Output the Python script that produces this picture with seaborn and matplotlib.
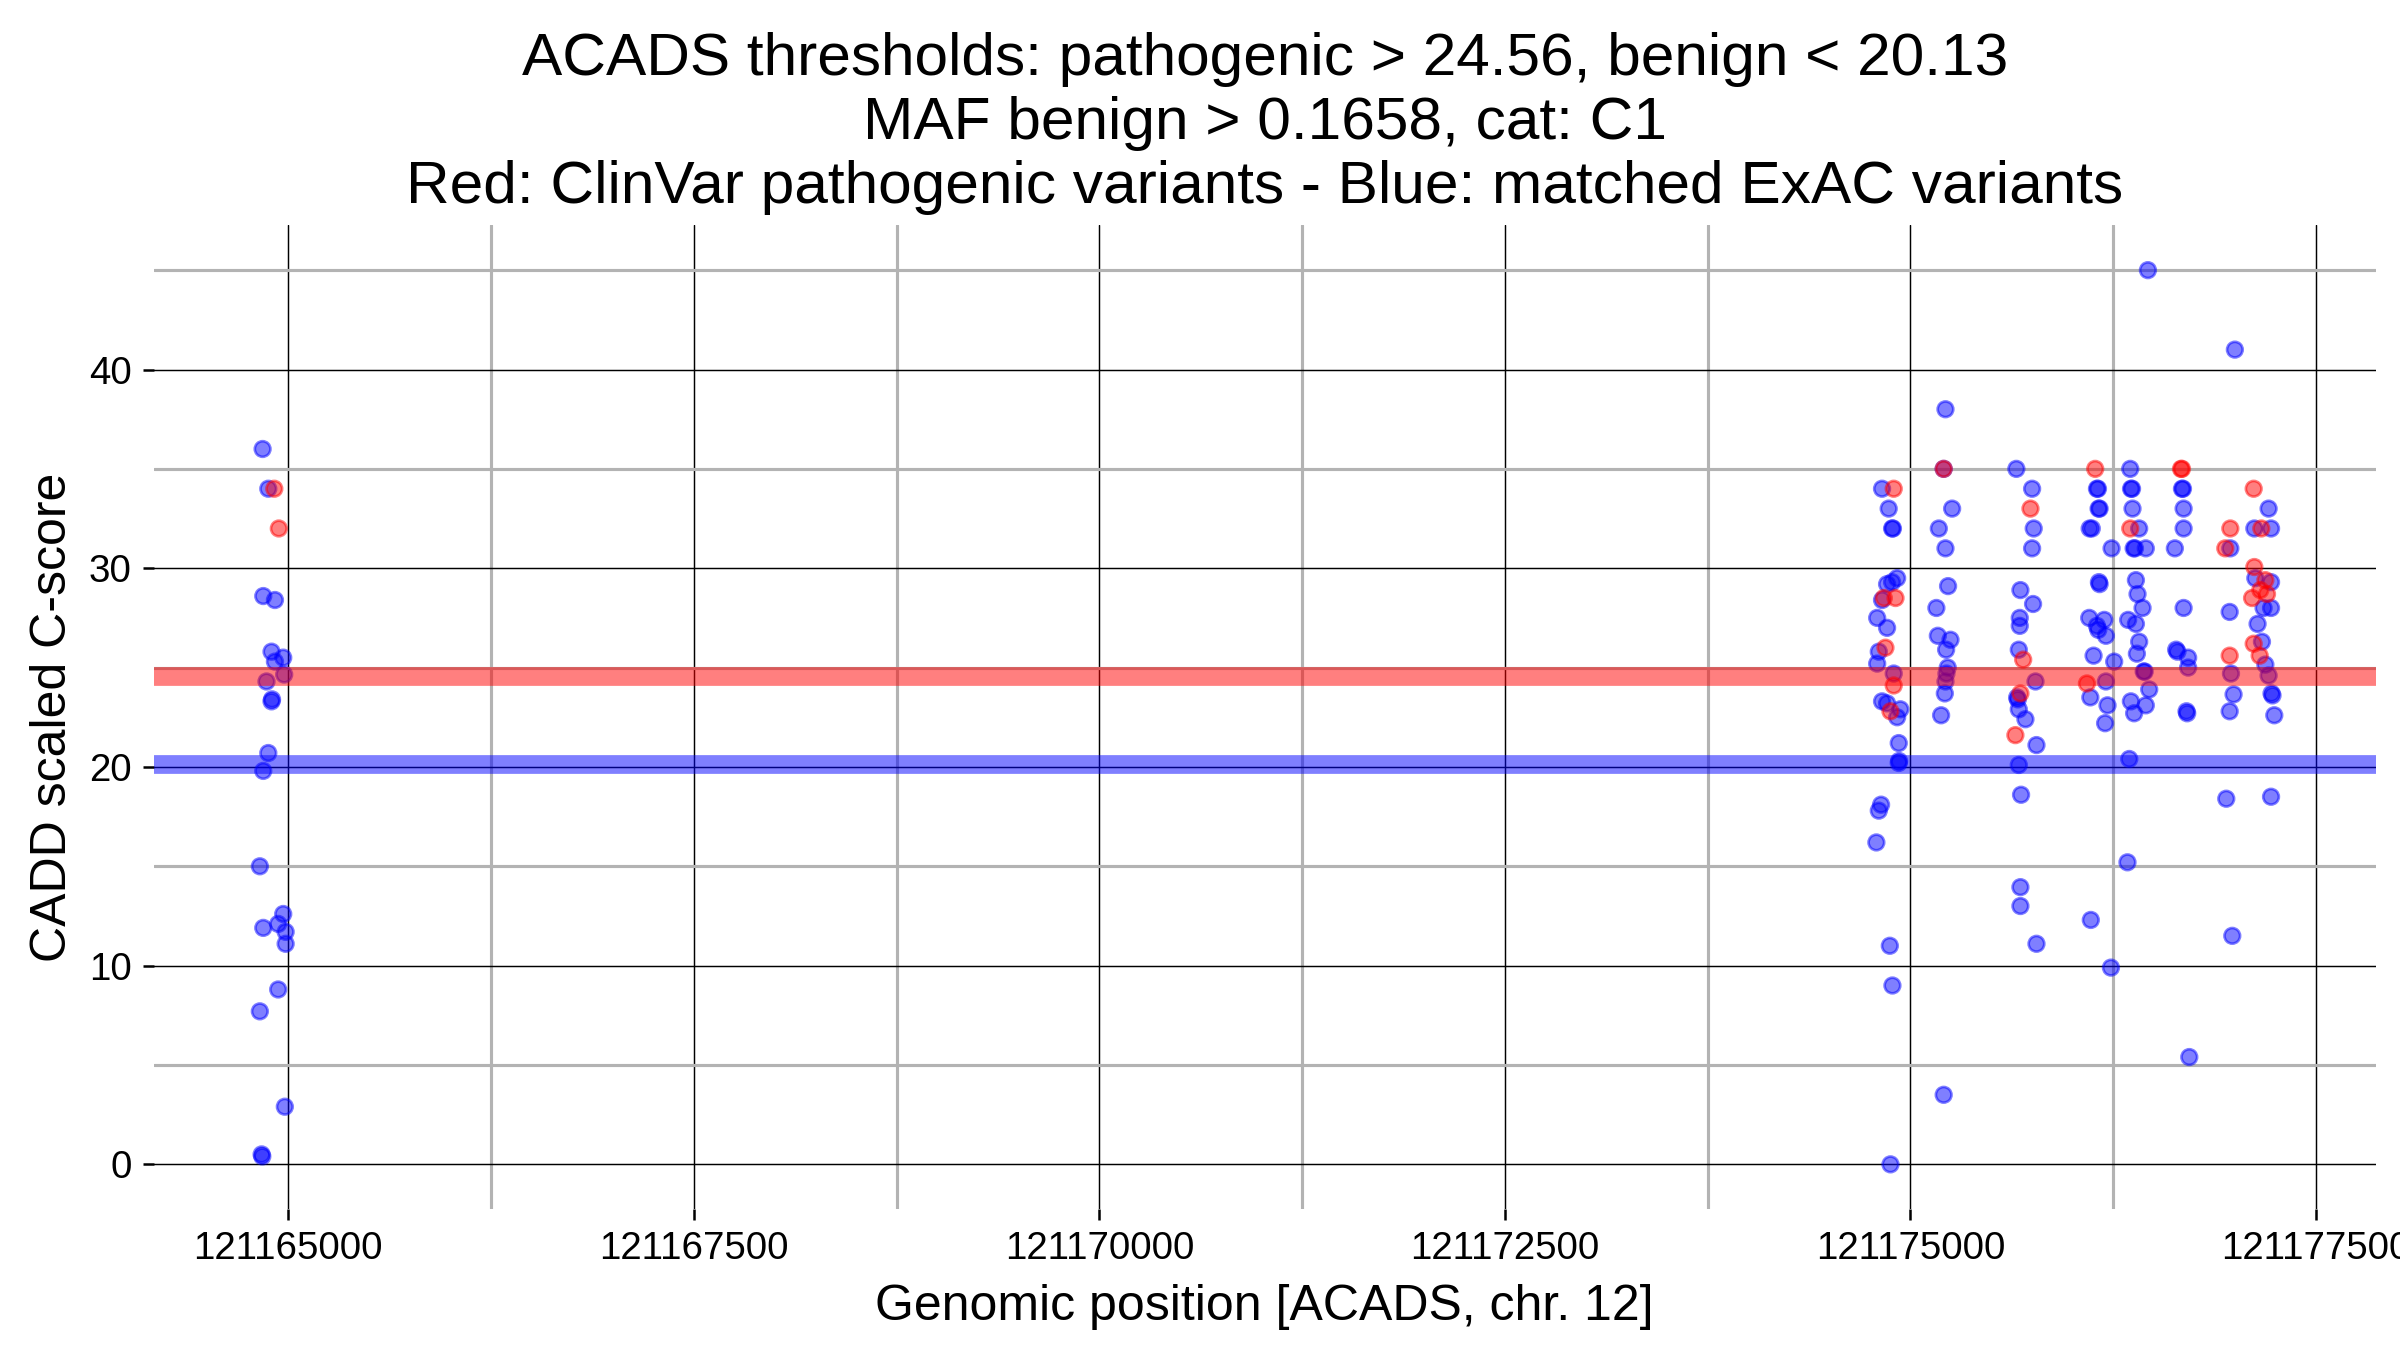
import numpy as np
import pandas as pd
import matplotlib
matplotlib.use('Agg')
import matplotlib.pyplot as plt
from matplotlib.ticker import MultipleLocator
import seaborn as sns

gene = 'ACADS'
chrom = 12
path_thr = 24.56
benign_thr = 20.13
maf_benign = 0.1658
cat = 'C1'

#matched ExAC variants (blue)
exac_pos = [
    # exon cluster near 121165000
    121164842, 121164877, 121164846, 121164918, 121164897, 121164918, 121164969,
    121164975, 121164866, 121164897, 121164900, 121164877, 121164846, 121164825,
    121164969, 121164938, 121164846, 121164984, 121164984, 121164938, 121164825,
    121164979, 121164836, 121164840,
    # 121174800 - 121174950
    121174825, 121174866, 121174887, 121174892, 121174918, 121174856, 121174887,
    121174825, 121174795, 121174856, 121174805, 121174795, 121174897, 121174825,
    121174856, 121174938, 121174918, 121174928, 121174928, 121174930, 121174819,
    121174805, 121174790, 121174873, 121174889, 121174877,
    # ~121175200
    121175216, 121175205, 121175257, 121175175, 121175216, 121175232, 121175160,
    121175169, 121175247, 121175220, 121175230, 121175222, 121175216, 121175212,
    121175189, 121175205,
    # ~121175700
    121175653, 121175750, 121175760, 121175750, 121175678, 121175756, 121175674,
    121175674, 121175668, 121175771, 121175658, 121175662, 121175668, 121175709,
    121175777, 121175668, 121175682, 121175678, 121175678, 121175777,
    # ~121176150
    121176150, 121176156, 121176160, 121176166, 121176105, 121176118, 121176240,
    121176162, 121176166, 121176102, 121176150, 121176158, 121176195, 121176205,
    121176129, 121176256, 121176205, 121176109, 121176215, 121176200, 121176338,
    121176112, 121176236,
    # ~121176400
    121176464, 121176355, 121176360, 121176366, 121176369, 121176410, 121176376,
    121176384, 121176451, 121176390, 121176400, 121176431, 121176342, 121176390,
    121176410, 121176396, 121176438, 121176444, 121176472, 121176359, 121176451,
    121176379, 121176349,
    # ~121176680
    121176674, 121176680, 121176684, 121176684, 121176630, 121176684, 121176638,
    121176646, 121176712, 121176712, 121176702, 121176706, 121176719,
    # ~121177100
    121177000, 121177208, 121177120, 121177223, 121176972, 121177126, 121177223,
    121176968, 121177177, 121177223, 121177140, 121177167, 121177188, 121176976,
    121177208, 121176992, 121177226, 121177232, 121176968, 121177243, 121176947,
    121177223, 121176984,
]
exac_cadd = [
    36.0, 34.0, 28.6, 28.4, 25.8, 25.3, 25.5,
    24.65, 24.3, 23.3, 23.4, 20.7, 19.8, 15.0,
    12.6, 12.1, 11.9, 11.7, 11.1, 8.8, 7.7,
    2.9, 0.5, 0.4,
    34.0, 33.0, 32.0, 32.0, 29.5, 29.2, 29.3,
    28.4, 27.5, 27.0, 25.8, 25.2, 24.7, 23.3,
    23.2, 22.9, 22.5, 21.2, 20.2, 20.3, 18.1,
    17.8, 16.2, 11.0, 9.0, 0.0,
    38.0, 35.0, 33.0, 32.0, 31.0, 29.1, 28.0,
    26.6, 26.4, 25.9, 25.0, 24.7, 24.3, 23.7,
    22.6, 3.5,
    35.0, 34.0, 32.0, 31.0, 28.9, 28.2, 27.5,
    27.1, 25.9, 24.3, 23.5, 23.4, 22.9, 22.4,
    21.1, 20.1, 18.6, 13.95, 13.0, 11.1,
    34.0, 34.0, 33.0, 33.0, 32.0, 32.0, 31.0,
    29.3, 29.2, 27.5, 27.1, 26.9, 27.4, 26.6,
    25.6, 25.3, 24.3, 23.5, 23.1, 22.2, 15.2,
    12.3, 9.9,
    45.0, 35.0, 34.0, 34.0, 33.0, 32.0, 31.0,
    31.0, 31.0, 29.4, 28.7, 28.0, 27.4, 27.2,
    26.3, 25.7, 24.8, 24.8, 23.9, 23.3, 23.1,
    22.7, 20.4,
    34.0, 34.0, 33.0, 32.0, 31.0, 28.0, 25.9,
    25.8, 25.5, 25.0, 22.8, 22.7, 5.4,
    41.0, 33.0, 32.0, 32.0, 31.0, 29.5, 29.3,
    27.8, 28.0, 28.0, 27.2, 26.3, 25.15, 24.7,
    24.6, 23.65, 23.7, 23.6, 22.8, 22.6, 18.4,
    18.5, 11.5,
]

#ClinVar pathogenic variants (red)
clinvar_pos = [
    121164914, 121164942,
    121174897, 121174836, 121174908, 121174846, 121174897, 121174877,
    121175205,
    121175740, 121175695, 121175678, 121175647,
    121176139, 121176088,
    121176355,
    121176668, 121176674,
    121177116, 121176972, 121177163, 121176941, 121177120, 121177188,
    121177157, 121177106, 121177198, 121177116, 121177153, 121176968,
]
clinvar_cadd = [
    34.0, 32.0,
    34.0, 28.5, 28.5, 26.0, 24.1, 22.8,
    35.0,
    33.0, 25.4, 23.7, 21.6,
    35.0, 24.2,
    32.0,
    35.0, 35.0,
    34.0, 32.0, 32.0, 31.0, 30.06, 29.4,
    28.9, 28.5, 28.7, 26.2, 25.6, 25.6,
]

x_ticks = [121165000, 121167500, 121170000, 121172500, 121175000, 121177500]
y_ticks = [0, 10, 20, 30, 40]


def plot_variants():
    sns.set_theme(style='white')
    plt.rcParams['font.family'] = ['Liberation Sans', 'DejaVu Sans']
    plt.rcParams['text.color'] = 'black'
    plt.rcParams['axes.labelcolor'] = 'black'
    fig = plt.figure(figsize=(16, 9), dpi=150)
    ax = fig.add_axes([0.064, 0.1044, 0.926, 0.7286])

    df = pd.concat([
        pd.DataFrame({'pos': exac_pos, 'cadd': exac_cadd, 'source': 'ExAC'}),
        pd.DataFrame({'pos': clinvar_pos, 'cadd': clinvar_cadd, 'source': 'ClinVar'}),
    ], ignore_index=True)

    sns.scatterplot(data=df, x='pos', y='cadd', hue='source',
                    palette={'ExAC': 'blue', 'ClinVar': 'red'},
                    alpha=0.5, s=56, edgecolor='face', linewidth=1.3,
                    legend=False, ax=ax, zorder=3)

    #threshold bands
    ax.axhline(path_thr, color='red', alpha=0.5, lw=9, zorder=4)
    ax.axhline(benign_thr, color='blue', alpha=0.5, lw=9, zorder=4)

    ax.set_xlim(121164170, 121177870)
    ax.set_ylim(-2.25, 47.25)
    ax.set_xticks(x_ticks)
    ax.set_xticklabels([str(t) for t in x_ticks])
    ax.set_yticks(y_ticks)
    ax.xaxis.set_minor_locator(MultipleLocator(1250))
    ax.yaxis.set_minor_locator(MultipleLocator(5))

    ax.set_axisbelow(True)
    ax.grid(which='minor', color='#b3b3b3', linewidth=1.5)
    ax.grid(which='major', color='black', linewidth=0.7)
    sns.despine(ax=ax, left=True, bottom=True)

    ax.tick_params(which='major', bottom=True, left=True, length=5.5, width=1.2,
                   color='black', labelsize=18.5, labelcolor='black', pad=5)
    ax.tick_params(which='minor', length=0)

    ax.set_xlabel('Genomic position [{}, chr. {}]'.format(gene, chrom), fontsize=24,
                  labelpad=8, color='black')
    ax.set_ylabel('CADD scaled C-score', fontsize=24, labelpad=6, color='black')
    ax.set_title('{} thresholds: pathogenic > {}, benign < {}\nMAF benign > {}, cat: {}\n'
                 'Red: ClinVar pathogenic variants - Blue: matched ExAC variants'
                 .format(gene, path_thr, benign_thr, maf_benign, cat),
                 fontsize=29, pad=11, linespacing=1.2, color='black')

    plt.savefig('out.png', dpi=150)


if __name__ == '__main__':
    plot_variants()
